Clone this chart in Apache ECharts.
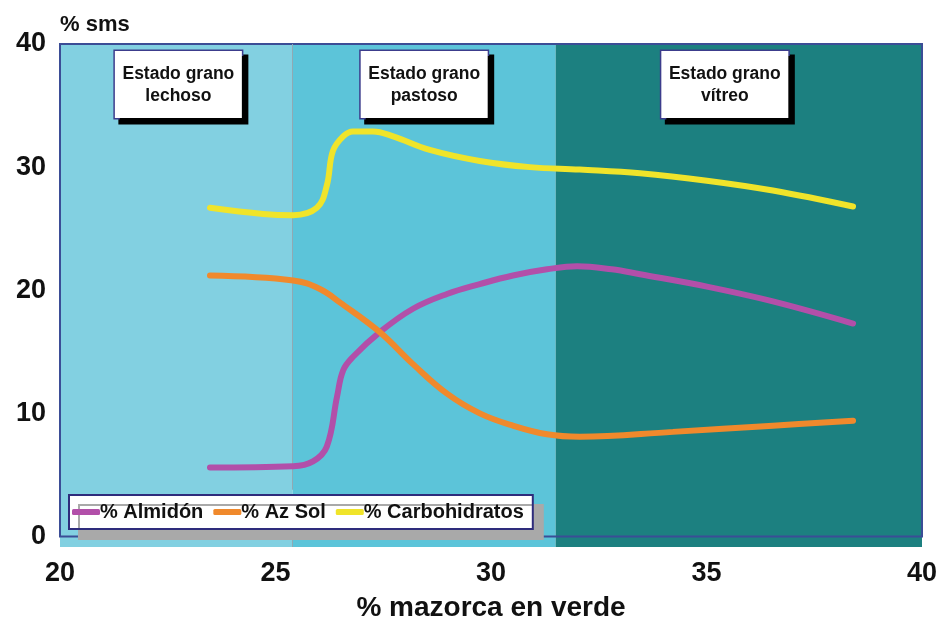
<!DOCTYPE html>
<html>
<head>
<meta charset="utf-8">
<script src="https://cdn.jsdelivr.net/npm/echarts@6/dist/echarts.min.js"></script>
<style>
html,body{margin:0;padding:0;background:#fff;}
#c{width:943px;height:627px;}
</style>
</head>
<body>
<div id="c"></div>
<script>
// ---- data ----
var seriesNames = ['% Almidón', '% Az Sol', '% Carbohidratos'];

var almidonX = [23.48, 25.41, 25.87, 26.19, 26.43, 26.57, 26.80, 27.42, 28.19, 28.98, 29.74, 30.51, 31.30, 32.00, 32.80, 33.46, 35.01, 36.54, 38.40];
var almidonY = [5.6, 5.7, 6.1, 7.3, 11.4, 13.5, 14.6, 16.6, 18.5, 19.7, 20.5, 21.2, 21.7, 21.95, 21.7, 21.3, 20.3, 19.1, 17.3];

var azSolX = [23.48, 25.41, 26.03, 26.50, 27.42, 28.19, 28.98, 29.74, 30.51, 31.30, 32.06, 34.22, 36.54, 38.40];
var azSolY = [21.2, 20.8, 20.1, 19.0, 16.6, 14.0, 11.6, 10.0, 9.0, 8.3, 8.1, 8.5, 9.0, 9.4];

var carboX = [23.48, 24.71, 25.41, 25.96, 26.19, 26.33, 26.57, 26.80, 27.26, 27.73, 28.58, 29.74, 30.90, 32.06, 33.46, 35.01, 36.54, 38.40];
var carboY = [26.7, 26.2, 26.1, 26.7, 28.5, 31.3, 32.5, 32.9, 32.9, 32.5, 31.4, 30.5, 30.0, 29.8, 29.5, 28.9, 28.1, 26.8];

var phaseBounds = [20, 25.4, 31.5, 40];
var phaseLabels = ['Estado grano\nlechoso', 'Estado grano\npastoso', 'Estado grano\nvítreo'];

var xTicks = [20, 25, 30, 35, 40];
var yTicks = [0, 10, 20, 30, 40];

// ---- styles ----
var phaseColors = ['#82d0e1', '#5cc4d9', '#1c8080'];
var phaseLabelOffsets = [[2, 0], [0, 0], [-14, 0]];
var lineColors = ['#b24fa9', '#f0892c', '#f0e42a'];
var FONT = 'Liberation Sans, Arial, sans-serif';

function pairs(xs, ys) {
  return xs.map(function (x, i) { return [x, ys[i]]; });
}

var areaData = [];
for (var i = 0; i < phaseLabels.length; i++) {
  areaData.push([
    {
      xAxis: phaseBounds[i], yAxis: -0.85,
      itemStyle: { color: phaseColors[i], borderWidth: 0 },
      label: {
        show: true,
        position: 'insideTop',
        distance: 7,
        offset: phaseLabelOffsets[i],
        formatter: phaseLabels[i],
        backgroundColor: '#ffffff',
        borderColor: '#3c3c8c',
        borderWidth: 1.5,
        width: 127,
        align: 'center',
        padding: [12, 0, 11, 0],
        lineHeight: 22,
        fontSize: 17.5,
        fontWeight: 'bold',
        fontFamily: FONT,
        color: '#111111',
        shadowColor: '#000000',
        shadowOffsetX: 5,
        shadowOffsetY: 5,
        shadowBlur: 0
      }
    },
    { xAxis: phaseBounds[i + 1], yAxis: 40 }
  ]);
}
// frame
areaData.push([
  { xAxis: phaseBounds[0], yAxis: 0, itemStyle: { color: 'rgba(0,0,0,0)', borderColor: '#3b4d96', borderWidth: 2 }, label: { show: false } },
  { xAxis: phaseBounds[3], yAxis: 40 }
]);

var chart = echarts.init(document.getElementById('c'), null, { renderer: 'canvas' });

var option = {
  backgroundColor: '#ffffff',
  animation: false,
  grid: { left: 60, right: 21, top: 44, bottom: 75, containLabel: false },
  legend: {
    data: seriesNames,
    z: 30,
    left: 69,
    top: 495,
    orient: 'horizontal',
    icon: 'roundRect',
    itemWidth: 28,
    itemHeight: 6,
    itemGap: 10,
    padding: [7, 9, 7, 3],
    backgroundColor: '#ffffff',
    borderColor: '#2e2c7c',
    borderWidth: 2,
    shadowColor: '#a9a9a9',
    shadowOffsetX: 10,
    shadowOffsetY: 10,
    shadowBlur: 0,
    textStyle: {
      fontSize: 20,
      fontWeight: 'bold',
      fontFamily: FONT,
      color: '#111111',
      padding: [0, 0, 0, -5]
    }
  },
  xAxis: {
    type: 'value',
    min: 20,
    max: 40,
    interval: 5,
    name: '% mazorca en verde',
    nameLocation: 'middle',
    nameGap: 47,
    nameTextStyle: { fontSize: 28, fontWeight: 'bold', fontFamily: FONT, color: '#111111' },
    axisLine: { show: false, onZero: true },
    axisTick: { show: false },
    splitLine: { show: false },
    axisLabel: {
      margin: 13,
      fontSize: 27,
      fontWeight: 'bold',
      fontFamily: FONT,
      color: '#111111',
      customValues: xTicks
    }
  },
  yAxis: {
    type: 'value',
    min: -0.85,
    max: 40,
    name: '% sms',
    nameLocation: 'end',
    nameGap: 8,
    nameTextStyle: { fontSize: 22, fontWeight: 'bold', fontFamily: FONT, color: '#111111', align: 'left', verticalAlign: 'bottom' },
    axisLine: { show: false },
    axisTick: { show: false },
    splitLine: { show: false },
    axisLabel: {
      margin: 14,
      fontSize: 27,
      fontWeight: 'bold',
      fontFamily: FONT,
      color: '#111111',
      customValues: yTicks
    }
  },
  series: [
    {
      type: 'line',
      data: [],
      z: 1,
      silent: true,
      markArea: { silent: true, data: areaData },
      markLine: {
        silent: true,
        symbol: 'none',
        label: { show: false },
        lineStyle: { color: '#8fa9b3', width: 1, type: 'solid' },
        data: [
          [{ xAxis: phaseBounds[1], yAxis: 3.8 }, { xAxis: phaseBounds[1], yAxis: 40 }],
          [{ xAxis: phaseBounds[1], yAxis: -0.85 }, { xAxis: phaseBounds[1], yAxis: -0.1 }]
        ]
      }
    },
    {
      name: seriesNames[0], type: 'line', smooth: 0.4, symbol: 'none', z: 5,
      data: pairs(almidonX, almidonY),
      lineStyle: { color: lineColors[0], width: 6, cap: 'round' },
      itemStyle: { color: lineColors[0] }
    },
    {
      name: seriesNames[1], type: 'line', smooth: 0.4, symbol: 'none', z: 5,
      data: pairs(azSolX, azSolY),
      lineStyle: { color: lineColors[1], width: 6, cap: 'round' },
      itemStyle: { color: lineColors[1] }
    },
    {
      name: seriesNames[2], type: 'line', smooth: 0.4, symbol: 'none', z: 5,
      data: pairs(carboX, carboY),
      lineStyle: { color: lineColors[2], width: 6, cap: 'round' },
      itemStyle: { color: lineColors[2] }
    }
  ]
};
chart.setOption(option);
</script>
</body>
</html>
